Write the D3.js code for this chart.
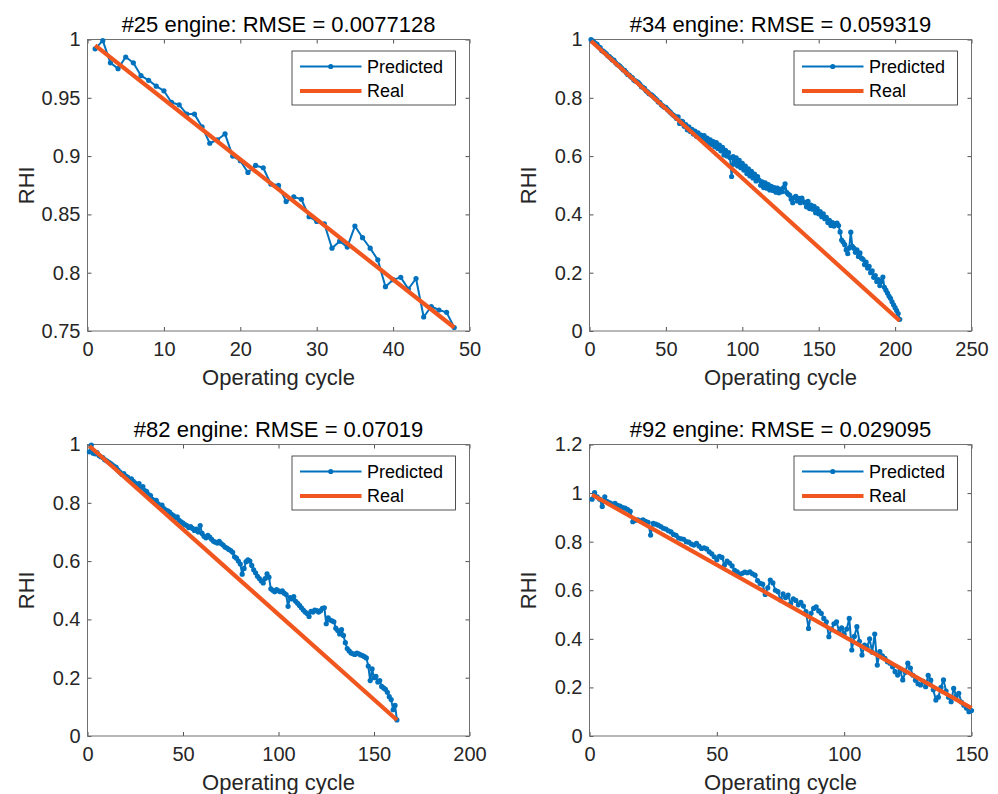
<!DOCTYPE html>
<html><head><meta charset="utf-8">
<script src="https://cdn.jsdelivr.net/npm/d3@7"></script>
<style>body{margin:0;background:#fff}svg{display:block}</style>
</head><body>
<svg id="chart" width="998" height="794"></svg>
<script>
// ---------- data ----------
const engineIds = ["#25", "#34", "#82", "#92"];
const rmseValues = ["0.0077128", "0.059319", "0.07019", "0.029095"];
const legendLabels = ["Predicted", "Real"];
const xLabel = "Operating cycle";
const yLabel = "RHI";

const pred25 = [0.992,0.999,0.980,0.975,0.985,0.980,0.969,0.965,0.960,0.956,
0.946,0.944,0.936,0.936,0.925,0.911,0.914,0.919,0.900,0.896,
0.886,0.892,0.890,0.876,0.875,0.861,0.865,0.863,0.848,0.844,
0.842,0.821,0.827,0.822,0.840,0.830,0.821,0.811,0.788,0.794,
0.796,0.786,0.795,0.762,0.771,0.768,0.766,0.753];
const real25Cycles = [1, 48];
const real25 = [0.995, 0.753];

const pred34 = [1.000,0.995,0.990,0.986,0.983,0.975,0.972,0.962,0.960,0.955,
0.951,0.944,0.941,0.936,0.930,0.929,0.921,0.915,0.912,0.908,
0.902,0.896,0.894,0.887,0.880,0.878,0.872,0.869,0.861,0.858,
0.856,0.852,0.846,0.838,0.836,0.832,0.824,0.820,0.814,0.812,
0.808,0.803,0.798,0.793,0.786,0.784,0.776,0.772,0.768,0.767,
0.760,0.755,0.750,0.744,0.740,0.736,0.729,0.735,0.712,0.720,
0.718,0.702,0.708,0.690,0.700,0.684,0.692,0.676,0.686,0.668,
0.680,0.664,0.672,0.660,0.670,0.652,0.662,0.644,0.656,0.640,
0.650,0.632,0.646,0.626,0.638,0.618,0.630,0.604,0.620,0.600,
0.612,0.594,0.530,0.598,0.572,0.594,0.566,0.585,0.560,0.575,
0.552,0.566,0.540,0.556,0.532,0.548,0.525,0.538,0.515,0.530,
0.518,0.500,0.512,0.492,0.508,0.490,0.502,0.484,0.496,0.482,
0.492,0.476,0.490,0.474,0.486,0.478,0.492,0.505,0.476,0.470,
0.466,0.452,0.440,0.458,0.462,0.446,0.455,0.440,0.456,0.444,
0.440,0.426,0.445,0.420,0.432,0.418,0.428,0.406,0.420,0.402,
0.410,0.392,0.402,0.385,0.390,0.372,0.380,0.362,0.372,0.360,
0.368,0.370,0.362,0.340,0.312,0.305,0.296,0.278,0.265,0.285,
0.339,0.290,0.284,0.270,0.278,0.256,0.268,0.250,0.246,0.228,
0.236,0.216,0.222,0.200,0.206,0.184,0.190,0.170,0.176,0.156,
0.170,0.185,0.150,0.140,0.130,0.120,0.112,0.100,0.090,0.080,
0.070,0.060,0.040];
const real34Cycles = [1, 203];
const real34 = [0.995, 0.035];

const pred82 = [0.975,0.998,0.970,0.968,0.972,0.962,0.958,0.955,0.948,0.944,
0.940,0.935,0.930,0.925,0.922,0.912,0.905,0.898,0.900,0.892,
0.888,0.880,0.882,0.874,0.868,0.860,0.866,0.852,0.856,0.842,
0.838,0.828,0.825,0.812,0.805,0.808,0.796,0.790,0.792,0.780,
0.775,0.772,0.768,0.760,0.756,0.748,0.752,0.740,0.735,0.730,
0.725,0.722,0.715,0.718,0.712,0.705,0.710,0.700,0.722,0.695,
0.685,0.680,0.688,0.682,0.675,0.668,0.665,0.662,0.668,0.660,
0.655,0.648,0.645,0.640,0.636,0.630,0.615,0.610,0.600,0.590,
0.555,0.575,0.598,0.604,0.600,0.585,0.570,0.560,0.548,0.540,
0.532,0.525,0.540,0.556,0.545,0.505,0.500,0.495,0.502,0.498,
0.495,0.498,0.490,0.485,0.445,0.475,0.470,0.478,0.462,0.455,
0.448,0.440,0.432,0.425,0.420,0.410,0.428,0.425,0.432,0.430,
0.425,0.430,0.438,0.440,0.385,0.405,0.398,0.395,0.392,0.370,
0.362,0.350,0.365,0.345,0.320,0.300,0.292,0.285,0.282,0.280,
0.284,0.282,0.278,0.276,0.272,0.268,0.240,0.190,0.230,0.200,
0.205,0.185,0.190,0.170,0.165,0.160,0.150,0.135,0.125,0.090,
0.105,0.055];
const real82Cycles = [1, 162];
const real82 = [0.995, 0.055];

const pred92 = [0.975,1.002,0.985,0.975,0.945,0.985,0.965,0.960,0.955,0.958,
0.950,0.946,0.940,0.938,0.932,0.925,0.882,0.888,0.890,0.886,
0.890,0.884,0.880,0.827,0.875,0.872,0.868,0.862,0.855,0.852,
0.845,0.840,0.830,0.826,0.815,0.812,0.810,0.800,0.798,0.790,
0.786,0.793,0.782,0.772,0.775,0.770,0.758,0.750,0.738,0.726,
0.740,0.735,0.704,0.720,0.712,0.700,0.682,0.676,0.665,0.670,
0.675,0.672,0.676,0.668,0.662,0.640,0.628,0.625,0.583,0.610,
0.642,0.630,0.600,0.594,0.560,0.585,0.570,0.580,0.545,0.565,
0.558,0.540,0.550,0.535,0.512,0.443,0.505,0.525,0.532,0.515,
0.505,0.484,0.470,0.409,0.440,0.462,0.470,0.430,0.445,0.420,
0.440,0.484,0.354,0.410,0.450,0.390,0.333,0.374,0.365,0.400,
0.345,0.420,0.292,0.347,0.330,0.320,0.306,0.300,0.285,0.265,
0.251,0.270,0.231,0.262,0.300,0.280,0.250,0.230,0.215,0.210,
0.225,0.203,0.250,0.230,0.190,0.148,0.160,0.200,0.231,0.185,
0.160,0.141,0.196,0.165,0.176,0.140,0.127,0.115,0.100,0.105];
const real92Cycles = [1, 150];
const real92 = [0.993, 0.115];

const xTicks25 = [0, 10, 20, 30, 40, 50];
const xTicks34 = [0, 50, 100, 150, 200, 250];
const xTicks82 = [0, 50, 100, 150, 200];
const xTicks92 = [0, 50, 100, 150];
const yTicks25 = [0.75, 0.8, 0.85, 0.9, 0.95, 1];
const yTickLabels25 = ["0.75", "0.8", "0.85", "0.9", "0.95", "1"];
const yTicks01 = [0, 0.2, 0.4, 0.6, 0.8, 1];
const yTickLabels01 = ["0", "0.2", "0.4", "0.6", "0.8", "1"];
const yTicks92 = [0, 0.2, 0.4, 0.6, 0.8, 1, 1.2];
const yTickLabels92 = ["0", "0.2", "0.4", "0.6", "0.8", "1", "1.2"];

// ---------- drawing ----------
const BLUE = "#0072BD", ORANGE = "#F0561E", TXT = "#262626";
const FONT = "'Liberation Sans', Arial, Helvetica, sans-serif";
const svg = d3.select("#chart");
svg.append("rect").attr("width", 998).attr("height", 794).attr("fill", "#fff");

const panels = [
  {id: engineIds[0], rmse: rmseValues[0], pred: pred25, rc: real25Cycles, rv: real25, xd: [0, 50], yd: [0.75, 1], xt: xTicks25, yt: yTicks25, ytl: yTickLabels25},
  {id: engineIds[1], rmse: rmseValues[1], pred: pred34, rc: real34Cycles, rv: real34, xd: [0, 250], yd: [0, 1], xt: xTicks34, yt: yTicks01, ytl: yTickLabels01},
  {id: engineIds[2], rmse: rmseValues[2], pred: pred82, rc: real82Cycles, rv: real82, xd: [0, 200], yd: [0, 1], xt: xTicks82, yt: yTicks01, ytl: yTickLabels01},
  {id: engineIds[3], rmse: rmseValues[3], pred: pred92, rc: real92Cycles, rv: real92, xd: [0, 150], yd: [0, 1.2], xt: xTicks92, yt: yTicks92, ytl: yTickLabels92}
];
const W = 382, H = 291.5;
const lefts = [87.5, 589.5], tops = [39.5, 444.5];
const TICK = 4;

panels.forEach((p, i) => {
  const g = svg.append("g").attr("transform", `translate(${lefts[i % 2]},${tops[Math.floor(i / 2)]})`);
  const x = d3.scaleLinear().domain(p.xd).range([0, W]);
  const y = d3.scaleLinear().domain(p.yd).range([H, 0]);

  const fmtX = d3.format("d");
  const ax = g.append("g").attr("transform", `translate(0,${H})`)
    .call(d3.axisBottom(x).tickValues(p.xt).tickFormat(fmtX).tickSize(-TICK).tickPadding(11));
  const ay = g.append("g")
    .call(d3.axisLeft(y).tickValues(p.yt).tickFormat((d, k) => p.ytl[k]).tickSize(-TICK).tickPadding(7));
  const at = g.append("g").call(d3.axisTop(x).tickValues(p.xt).tickFormat("").tickSize(-TICK));
  const ar = g.append("g").attr("transform", `translate(${W},0)`)
    .call(d3.axisRight(y).tickValues(p.yt).tickFormat("").tickSize(-TICK));
  [ax, ay, at, ar].forEach(a => {
    a.select(".domain").remove();
    a.selectAll(".tick line").attr("stroke", TXT).attr("stroke-width", 0.8);
    a.selectAll(".tick text").attr("fill", TXT).style("font-family", FONT).style("font-size", "20px");
  });
  g.append("rect").attr("x", 0).attr("y", 0).attr("width", W).attr("height", H)
    .attr("fill", "none").attr("stroke", "#707070").attr("stroke-width", 1);

  // predicted
  const pts = p.pred.map((v, k) => [k + 1, v]);
  const line = d3.line().x(d => x(d[0])).y(d => y(d[1]));
  g.append("path").datum(pts).attr("d", line).attr("fill", "none")
    .attr("stroke", BLUE).attr("stroke-width", 2).attr("stroke-linejoin", "round");
  g.append("g").selectAll("circle").data(pts).join("circle")
    .attr("cx", d => x(d[0])).attr("cy", d => y(d[1])).attr("r", 2.6).attr("fill", BLUE);

  // real
  g.append("path").datum(p.rc.map((c, k) => [c, p.rv[k]])).attr("d", line)
    .attr("fill", "none").attr("stroke", ORANGE).attr("stroke-width", 4.2);

  // title & labels
  g.append("text").attr("x", W / 2).attr("y", -8).attr("text-anchor", "middle")
    .style("font-family", FONT).style("font-size", "22px").attr("fill", "#000")
    .text(`${p.id} engine: RMSE = ${p.rmse}`);
  g.append("text").attr("x", W / 2).attr("y", H + 54).attr("text-anchor", "middle")
    .style("font-family", FONT).style("font-size", "22px").attr("fill", TXT).text(xLabel);
  g.append("text").attr("transform", `translate(${-54},${H / 2}) rotate(-90)`).attr("text-anchor", "middle")
    .style("font-family", FONT).style("font-size", "22px").attr("fill", TXT).text(yLabel);

  // legend
  const lg = g.append("g").attr("transform", `translate(${W - 177.5},${11.5})`);
  lg.append("rect").attr("width", 163.5).attr("height", 54).attr("fill", "#fff")
    .attr("stroke", TXT).attr("stroke-width", 0.8);
  const rows = [15.5, 40];
  lg.append("line").attr("x1", 8).attr("x2", 69.5).attr("y1", rows[0]).attr("y2", rows[0])
    .attr("stroke", BLUE).attr("stroke-width", 2);
  lg.append("circle").attr("cx", 38.75).attr("cy", rows[0]).attr("r", 2.6).attr("fill", BLUE);
  lg.append("line").attr("x1", 8).attr("x2", 69.5).attr("y1", rows[1]).attr("y2", rows[1])
    .attr("stroke", ORANGE).attr("stroke-width", 4.2);
  legendLabels.forEach((t, k) => {
    lg.append("text").attr("x", 75).attr("y", rows[k]).attr("dy", "0.35em")
      .style("font-family", FONT).style("font-size", "18px").attr("fill", "#000").text(t);
  });
});
</script>
</body></html>
